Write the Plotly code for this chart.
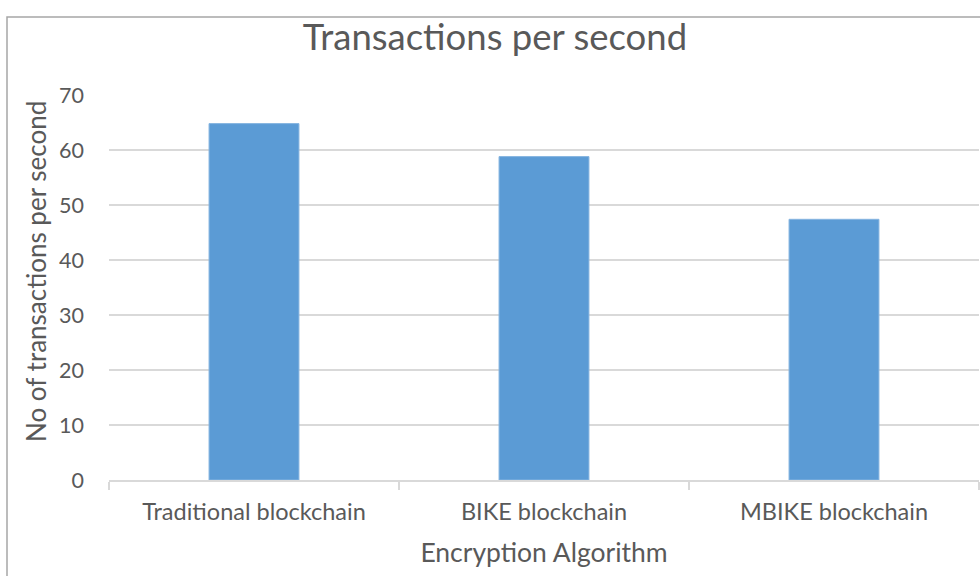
import plotly.graph_objects as go

categories = ["Traditional blockchain", "BIKE blockchain", "MBIKE blockchain"]
tps_values = [64.8, 58.8, 47.4]
y_ticks = [0, 10, 20, 30, 40, 50, 60, 70]

FONT = "Lato"
GREY = "#595959"

fig = go.Figure()
fig.add_trace(go.Bar(
    x=categories, y=tps_values,
    marker=dict(color="#5B9BD5", line=dict(color="#86B4E0", width=1)),
    width=0.31,
))

fig.update_layout(
    width=980, height=576,
    margin=dict(l=109, r=1, t=95, b=96),
    paper_bgcolor="white", plot_bgcolor="white",
    showlegend=False,
    font=dict(family=FONT, color=GREY),
    title=dict(text="Transactions per second", x=0.505, xanchor="center",
               y=1 - 37/576, yanchor="middle",
               font=dict(family=FONT, size=36.5, color=GREY)),
    xaxis=dict(
        type="category",
        showline=True, linecolor="#d9d9d9", linewidth=1.5,
        ticks="outside", ticklen=8, tickcolor="#d9d9d9", tickwidth=1.5,
        tickson="boundaries",
        ticklabelstandoff=10,
        tickfont=dict(size=23.5, color=GREY),
        title=dict(text="Encryption Algorithm", font=dict(size=26.5, color=GREY), standoff=19),
        showgrid=False,
    ),
    yaxis=dict(
        range=[0, 70], tickvals=y_ticks,
        showgrid=True, gridcolor="#d9d9d9", gridwidth=1.5,
        zeroline=False, showline=False,
        ticks="", ticklabelstandoff=24,
        tickfont=dict(size=21.5, color=GREY),
    ),
)

fig.add_annotation(text="No of transactions per second", textangle=-90,
                   xref="paper", yref="paper",
                   x=(36 - 109) / 870, y=(480 - 272) / 385,
                   xanchor="center", yanchor="middle", showarrow=False,
                   font=dict(family=FONT, size=26, color=GREY))

fig.add_shape(type="rect", xref="paper", yref="paper",
              x0=-102/870, x1=1.2, y0=-0.5, y1=1 + (95-17)/385,
              line=dict(color="#a6a6a6", width=1.5), fillcolor="rgba(0,0,0,0)", layer="below")

fig.write_html("out.html")
